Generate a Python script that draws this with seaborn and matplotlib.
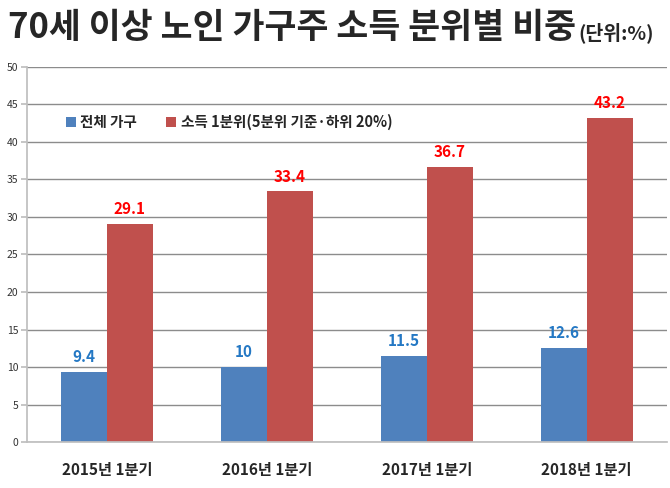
import matplotlib
matplotlib.use("Agg")
import matplotlib.pyplot as plt
import pandas as pd
import seaborn as sns

# data
quarters = ["2015년 1분기", "2016년 1분기", "2017년 1분기", "2018년 1분기"]
all_households = [9.4, 10, 11.5, 12.6]
bottom_quintile = [29.1, 33.4, 36.7, 43.2]
series_names = ["전체 가구", "소득 1분위(5분위 기준·하위 20%)"]

sns.set_theme(style="white")
plt.rcParams["font.family"] = ["Noto Sans CJK KR", "DejaVu Sans"]

frame = pd.DataFrame(
    {
        "quarter": quarters * 2,
        "value": all_households + bottom_quintile,
        "series": [series_names[0]] * 4 + [series_names[1]] * 4,
    }
)

palette = {series_names[0]: "#4F81BD", series_names[1]: "#C0504D"}
label_colors = ["#2478C4", "#FF0000"]

fig = plt.figure(figsize=(6.7, 4.88), dpi=100)
ax = fig.add_axes([0.040, 0.094, 0.955, 0.769])

sns.barplot(
    data=frame, x="quarter", y="value", hue="series",
    palette=palette, width=0.575, saturation=1, linewidth=0, ax=ax,
)

for container, color in zip(ax.containers, label_colors):
    labels = [f"{v:g}" for v in container.datavalues]
    ax.bar_label(container, labels=labels, padding=5, color=color,
                 fontsize=11, fontweight="bold")

ax.set_ylim(0, 50)
ax.set_yticks(range(0, 51, 5))
ax.set_xlim(-0.5, 3.5)
ax.grid(axis="y", color="#8C8C8C", linewidth=1)
ax.set_axisbelow(True)
for side in ["top", "right"]:
    ax.spines[side].set_visible(False)
ax.spines["left"].set_color("#BFBFBF")
ax.spines["bottom"].set_color("#BFBFBF")
ax.tick_params(axis="y", labelsize=7.5, colors="#333333", length=4,
               left=True, color="#BFBFBF", pad=2)
ax.tick_params(axis="x", labelsize=11, pad=14, length=0)
for lbl in ax.get_xticklabels():
    lbl.set_fontweight("bold")
ax.set_xlabel("")
ax.set_ylabel("")

leg = ax.legend(
    loc="upper left", bbox_to_anchor=(0.04, 0.91), ncol=2, frameon=False,
    prop={"weight": "bold", "size": 10.5}, handlelength=0.7, handleheight=0.7,
    handletextpad=0.3, columnspacing=2.0,
)

title = fig.text(0.012, 0.943, "70세 이상 노인 가구주 소득 분위별 비중",
                 fontsize=25, fontweight="heavy", va="center", ha="left")
fig.canvas.draw()
bb = title.get_window_extent()
fig.text(bb.x1 / fig.bbox.width + 0.003, 0.932, "(단위:%)",
         fontsize=14, fontweight="bold", va="center", ha="left")

fig.savefig("out.png", dpi=100)
